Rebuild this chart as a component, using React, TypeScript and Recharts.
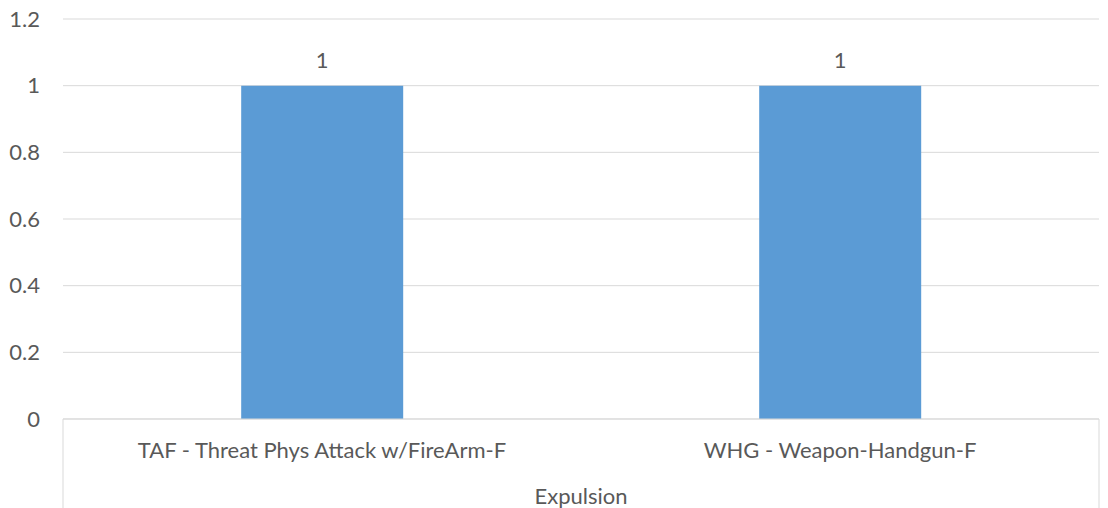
import React from 'react';
import { BarChart, Bar, XAxis, YAxis, CartesianGrid, LabelList } from 'recharts';

const categories = ['TAF - Threat Phys Attack w/FireArm-F', 'WHG - Weapon-Handgun-F'];
const values = [1, 1];
const yTicks = [0, 0.2, 0.4, 0.6, 0.8, 1, 1.2];
const groupLabel = 'Expulsion';

const data = categories.map((c, i) => ({ name: c, value: values[i] }));

const FONT = "Lato, 'Open Sans', sans-serif";
const FS = 22;
const TEXT = '#595959';
const LINE = '#d9d9d9';

const CategoryTick = (props: any) => {
  const { x, y, payload, index, visibleTicksCount } = props;
  const half = payload && payload.offset ? payload.offset : 259;
  const count = visibleTicksCount || categories.length;
  const axisH = 89;
  return (
    <g>
      <text x={x} y={y + 30} textAnchor="middle" dominantBaseline="central" fill={TEXT} fontSize={FS} fontFamily={FONT}>
        {payload.value}
      </text>
      {index === 0 && (
        <>
          <line x1={x - half} x2={x - half} y1={y} y2={y + axisH} stroke={LINE} strokeWidth={1} />
          <text x={x - half + half * count} y={y + 76} textAnchor="middle" dominantBaseline="central" fill={TEXT} fontSize={FS} fontFamily={FONT}>
            {groupLabel}
          </text>
        </>
      )}
      {index === count - 1 && (
        <line x1={x + half} x2={x + half} y1={y} y2={y + axisH} stroke={LINE} strokeWidth={1} />
      )}
    </g>
  );
};

export default function App() {
  return (
    <div style={{ position: 'absolute', left: 0, top: 0, width: 1108, height: 508, background: '#fff' }}>
      <BarChart width={1108} height={508} data={data} margin={{ top: 19, right: 9, bottom: 0, left: 0 }} barCategoryGap="34.4%">
        <CartesianGrid vertical={false} stroke={LINE} strokeWidth={1} />
        <XAxis
          dataKey="name"
          height={89}
          tickSize={0}
          tickMargin={0}
          axisLine={{ stroke: LINE }}
          tickLine={false}
          interval={0}
          tick={<CategoryTick />}
        />
        <YAxis
          width={63}
          domain={[0, 1.2]}
          ticks={yTicks}
          axisLine={false}
          tickLine={false}
          tickSize={0}
          tickMargin={23}
          tick={{ fill: TEXT, fontSize: FS, fontFamily: FONT }}
        />
        <Bar dataKey="value" fill="#5B9BD5" isAnimationActive={false}>
          <LabelList dataKey="value" position="top" offset={18} fill={TEXT} fontSize={FS} fontFamily={FONT} />
        </Bar>
      </BarChart>
    </div>
  );
}
